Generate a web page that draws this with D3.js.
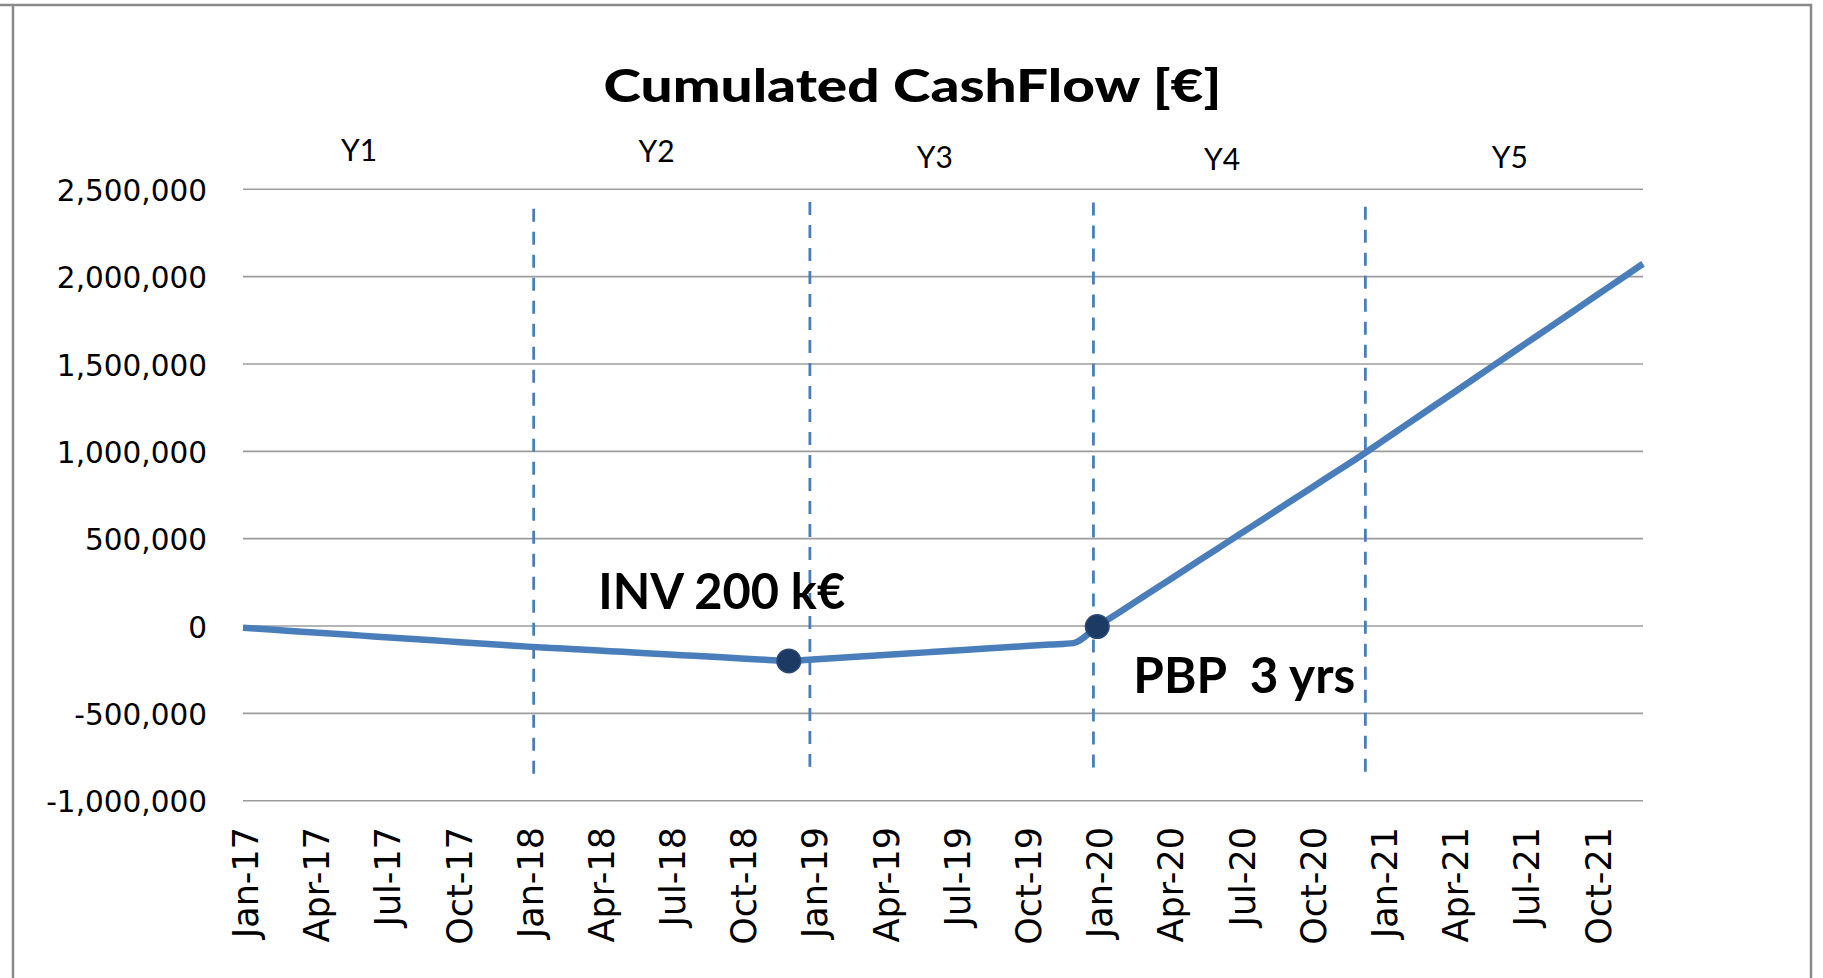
<!DOCTYPE html>
<html>
<head>
<meta charset="utf-8">
<script src="https://cdn.jsdelivr.net/npm/d3@7/dist/d3.min.js"></script>
<style>
  html, body { margin: 0; padding: 0; background: #ffffff; }
  svg { display: block; }
  text { white-space: pre; }
</style>
</head>
<body>
<script>
// ---------------- DATA ----------------
const title = "Cumulated CashFlow [€]";
// monthly categories Jan-17 .. Dec-21 (60 months)
const monthCategories = d3.timeMonth.range(new Date(2017, 0, 1), new Date(2022, 0, 1));
// cumulated cash flow (€), one value per month
const cumCashFlow = [
  -10000, -19000, -28000, -37000, -46000, -55000, -64000, -73000, -82000, -91000, -100000, -109000,          // 2017
  -118000, -125500, -133000, -140500, -148000, -155500, -163000, -170500, -178000, -185500, -193000, -200000, // 2018
  -191500, -183000, -174500, -166000, -157500, -149000, -140500, -132000, -123500, -115000, -106500, -98000,  // 2019
  -3000, 85000, 173000, 261000, 349000, 437000, 525000, 613000, 701000, 789000, 877000, 965000,              // 2020
  1057000, 1150000, 1242000, 1334000, 1427000, 1519000, 1612000, 1704000, 1796000, 1889000, 1981000, 2074000 // 2021
];
const xTickLabels = ["Jan-17","Apr-17","Jul-17","Oct-17","Jan-18","Apr-18","Jul-18","Oct-18",
                     "Jan-19","Apr-19","Jul-19","Oct-19","Jan-20","Apr-20","Jul-20","Oct-20",
                     "Jan-21","Apr-21","Jul-21","Oct-21"];
const xTickIndex = [0,3,6,9,12,15,18,21,24,27,30,33,36,39,42,45,48,51,54,57];
const yTicks = [-1000000, -500000, 0, 500000, 1000000, 1500000, 2000000, 2500000];
const yDomain = [-1000000, 2500000];

// year labels (annotation text) and where they sit (month index, value)
const yearLabels = ["Y1", "Y2", "Y3", "Y4", "Y5"];
const yearLabelMonth = [4.89, 17.43, 29.16, 41.26, 53.39];
const yearLabelValue = [2660000, 2659000, 2621000, 2612000, 2621000];

// year dividers (dashed) in month units, with their top / bottom values
const dividerMonth = [12.25, 23.89, 35.84, 47.30];
const dividerTop = [2388000, 2428000, 2424000, 2400000];
const dividerBottom = [-888000, -842000, -842000, -865000];

// highlighted points (month index) and their callouts
const markerIndex = [23, 36];
const calloutText = ["INV 200 k€", "PBP  3 yrs"];
const calloutMonth = [14.97, 37.52];
const calloutValue = [97400, -385500];

// ---------------- CHART ----------------
const W = 1823, H = 978;
const svg = d3.select("body").append("svg").attr("width", W).attr("height", H);

svg.append("rect").attr("width", W).attr("height", H).attr("fill", "#ffffff");

// outer frame
svg.append("rect")
  .attr("x", 13).attr("y", 5).attr("width", 1798).attr("height", 1000)
  .attr("fill", "none").attr("stroke", "#8a8a8a").attr("stroke-width", 2.5);
svg.append("line").attr("x1", 0).attr("x2", 13).attr("y1", 5).attr("y2", 5)
  .attr("stroke", "#8a8a8a").attr("stroke-width", 2.5);

const x = d3.scaleLinear().domain([0, monthCategories.length - 1]).range([243, 1643]);
const y = d3.scaleLinear().domain(yDomain).range([800.7, 189.3]);

// gridlines
svg.append("g").selectAll("line").data(yTicks).join("line")
  .attr("x1", x(0)).attr("x2", x(monthCategories.length - 1))
  .attr("y1", d => y(d)).attr("y2", d => y(d))
  .attr("stroke", "#9c9c9c").attr("stroke-width", 1.6);

// y axis labels (plain hyphen minus)
const loc = d3.formatLocale({decimal: ".", thousands: ",", grouping: [3], currency: ["", ""], minus: "-"});
const fmt = loc.format(",");
const yAxis = d3.axisLeft(y).tickValues(yTicks).tickFormat(d => fmt(d)).tickSize(0).tickPadding(0);
const gy = svg.append("g").attr("transform", "translate(207,0)").call(yAxis);
gy.select(".domain").remove();
gy.selectAll("text")
  .attr("font-family", "'DejaVu Sans', Verdana, sans-serif")
  .attr("font-size", 29.5).attr("fill", "#000").attr("text-anchor", "end")
  .attr("x", 0).attr("dy", "0.38em");

// x axis labels (rotated)
svg.append("g").selectAll("text").data(xTickLabels).join("text")
  .attr("transform", (d, i) => `translate(${x(xTickIndex[i]) + 15},827) rotate(-90)`)
  .attr("text-anchor", "end")
  .attr("font-family", "'DejaVu Sans', Verdana, sans-serif")
  .attr("font-size", 35).attr("fill", "#000")
  .text(d => d);

// year dividers
svg.append("g").selectAll("line").data(dividerMonth).join("line")
  .attr("x1", d => x(d)).attr("x2", d => x(d))
  .attr("y1", (d, i) => y(dividerTop[i])).attr("y2", (d, i) => y(dividerBottom[i]))
  .attr("stroke", "#4a7ebb").attr("stroke-width", 2.8).attr("stroke-dasharray", "13,10");

// year labels
svg.append("g").selectAll("text").data(yearLabels).join("text")
  .attr("x", (d, i) => x(yearLabelMonth[i])).attr("y", (d, i) => y(yearLabelValue[i]))
  .attr("text-anchor", "middle")
  .attr("font-family", "Lato, 'Open Sans', sans-serif").attr("font-size", 30)
  .attr("fill", "#000").text(d => d);

// series line
const line = d3.line()
  .x((d, i) => x(i)).y(d => y(d))
  .curve(d3.curveMonotoneX);
svg.append("path").datum(cumCashFlow)
  .attr("d", line).attr("fill", "none")
  .attr("stroke", "#4a7ebb").attr("stroke-width", 6.5)
  .attr("stroke-linejoin", "round").attr("stroke-linecap", "butt");

// markers
svg.append("g").selectAll("circle").data(markerIndex).join("circle")
  .attr("cx", d => x(d)).attr("cy", d => y(cumCashFlow[d])).attr("r", 11.8)
  .attr("fill", "#1c3a63").attr("stroke", "#2a4a76").attr("stroke-width", 1.5);

// helper: fit text horizontally to a target width by scaling glyphs
function fitWidth(sel, targetW) {
  const node = sel.node();
  const w = node.getComputedTextLength();
  return w > 0 ? targetW / w : 1;
}

// title
const tt = svg.append("text")
  .attr("text-anchor", "middle")
  .attr("font-family", "Lato, 'Open Sans', sans-serif").attr("font-weight", 900)
  .attr("font-size", 46).attr("fill", "#000")
  .text(title);
const ts = fitWidth(tt, 618);
tt.attr("transform", `translate(912.5,101.7) scale(${ts},1)`);

// callouts
const calloutWidth = [247, 222];
svg.append("g").selectAll("text").data(calloutText).join("text")
  .attr("text-anchor", "start")
  .attr("font-family", "Lato, 'Open Sans', sans-serif").attr("font-weight", 700)
  .attr("font-size", 49.5).attr("fill", "#000")
  .text(d => d)
  .each(function(d, i) {
    const s = fitWidth(d3.select(this), calloutWidth[i]);
    d3.select(this).attr("transform",
      `translate(${x(calloutMonth[i])},${y(calloutValue[i])}) scale(${s},1)`);
  });
</script>
</body>
</html>
